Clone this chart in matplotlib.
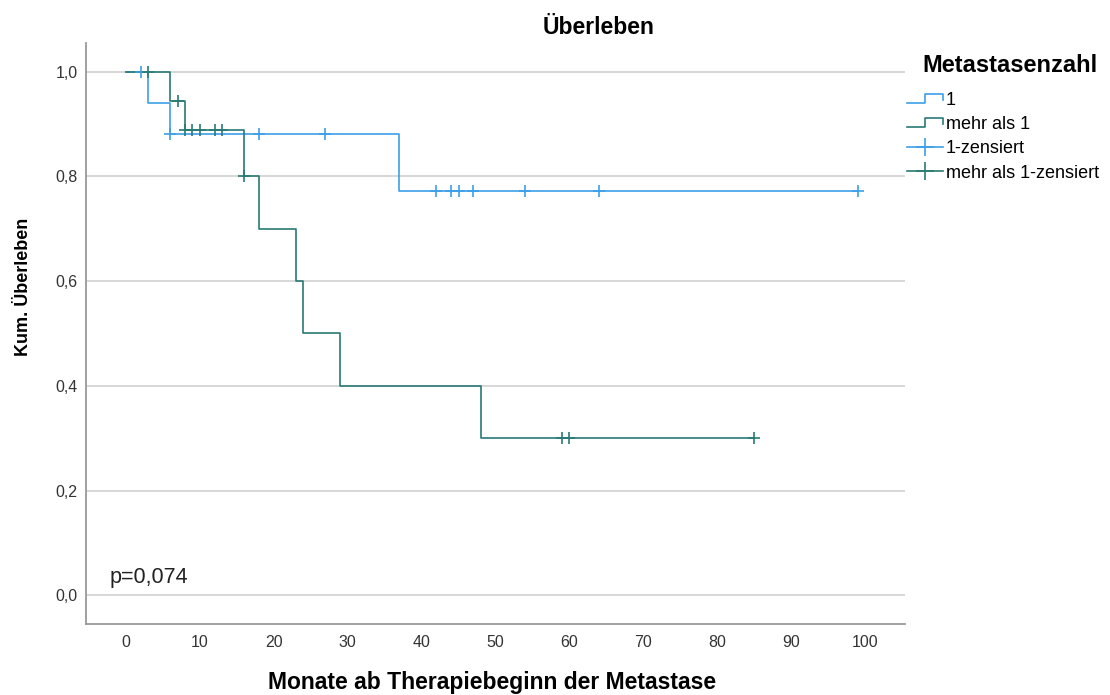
import matplotlib
matplotlib.use("Agg")
import matplotlib.pyplot as plt
from matplotlib.lines import Line2D
from matplotlib.legend_handler import HandlerBase
from matplotlib.ticker import FuncFormatter

plt.rcParams['font.family'] = ['Liberation Sans', 'DejaVu Sans']

# Data
grp1_times = [0, 3, 6, 37, 99]
grp1_surv = [1.0, 0.941, 0.882, 0.772, 0.772]
grp1_cens_t = [2, 6, 18, 27, 42, 44, 45, 47, 54, 64, 99]
grp1_cens_s = [1.0, 0.882, 0.882, 0.882, 0.772, 0.772, 0.772, 0.772, 0.772, 0.772, 0.772]

grp2_times = [0, 6, 8, 16, 18, 23, 24, 29, 48, 85]
grp2_surv = [1.0, 0.944, 0.889, 0.8, 0.7, 0.6, 0.5, 0.4, 0.3, 0.3]
grp2_cens_t = [3, 7, 8, 9, 10, 12, 13, 16, 59, 60, 85]
grp2_cens_s = [1.0, 0.944, 0.889, 0.889, 0.889, 0.889, 0.889, 0.8, 0.3, 0.3, 0.3]

x_ticks = list(range(0, 101, 10))
y_ticks = [0.0, 0.2, 0.4, 0.6, 0.8, 1.0]
legend_labels = ['1', 'mehr als 1', '1-zensiert', 'mehr als 1-zensiert']

c1 = '#3d9fe8'
c2 = '#2a7a74'

W, H = 1110, 695
fig = plt.figure(figsize=(11.1, 6.95), dpi=100)
ax = fig.add_axes([86 / W, 1 - 624 / H, (905 - 86) / W, (624 - 43) / H])

for yt in y_ticks:
    ax.axhline(yt, color='#d4d4d4', lw=1.3, zorder=0)

ax.step(grp1_times, grp1_surv, where='post', color=c1, lw=1.2)
ax.step(grp2_times, grp2_surv, where='post', color=c2, lw=1.2)
ax.plot(grp1_cens_t, grp1_cens_s, ls='none', marker='+', ms=9, mew=1.2, color=c1)
ax.plot(grp2_cens_t, grp2_cens_s, ls='none', marker='+', ms=9, mew=1.2, color=c2)

ax.set_xlim(-5.4, 105.4)
ax.set_ylim(-0.055, 1.055)
ax.set_xticks(x_ticks)
ax.set_yticks(y_ticks)
ax.yaxis.set_major_formatter(FuncFormatter(lambda v, p: f"{v:.1f}".replace('.', ',')))
ax.tick_params(length=0, labelsize=11.5, colors='#333333')
ax.tick_params(axis='x', pad=8)
ax.tick_params(axis='y', pad=6)
for s in ['top', 'right']:
    ax.spines[s].set_visible(False)
for s in ['left', 'bottom']:
    ax.spines[s].set_color('#999999')
    ax.spines[s].set_linewidth(1.3)

fig.text(599 / W, 1 - 27 / H, 'Überleben', fontsize=16.5, fontweight='bold',
         ha='center', va='center')
fig.text(492 / W, 1 - 682 / H, 'Monate ab Therapiebeginn der Metastase', fontsize=16.5,
         fontweight='bold', ha='center', va='center')
fig.text(24 / W, 1 - 287 / H, 'Kum. Überleben', fontsize=13, fontweight='bold',
         ha='center', va='center', rotation=90)
ax.text(-2.2, 0.033, 'p=0,074', fontsize=15.5, va='center', ha='left', color='#222222')


class StepHandler(HandlerBase):
    def create_artists(self, legend, orig_handle, xdescent, ydescent, width, height, fontsize, trans):
        x0 = -xdescent
        x1 = x0 + width
        y0 = -ydescent + height * 0.15
        y1 = -ydescent + height * 0.85
        xm = x0 + width * 0.5
        xs = [x0, xm, xm, x1, x1]
        ys = [y0, y0, y1, y1, y0 + (y1 - y0) * 0.35]
        ln = Line2D(xs, ys, color=orig_handle.get_color(), lw=1.2)
        ln.set_transform(trans)
        return [ln]


class CensHandler(HandlerBase):
    def create_artists(self, legend, orig_handle, xdescent, ydescent, width, height, fontsize, trans):
        x0 = -xdescent
        x1 = x0 + width
        ym = -ydescent + height * 0.5
        ln = Line2D([x0, x1], [ym, ym], color=orig_handle.get_color(), lw=1.2)
        mk = Line2D([x0 + width / 2], [ym], marker='+', ms=13, mew=1.2, ls='none',
                    color=orig_handle.get_color())
        ln.set_transform(trans)
        mk.set_transform(trans)
        return [ln, mk]


h1 = Line2D([], [], color=c1)
h2 = Line2D([], [], color=c2)
h3 = Line2D([], [], color=c1)
h4 = Line2D([], [], color=c2)
sh = StepHandler()
ch = CensHandler()
fig.text(922 / W, 1 - 65 / H, 'Metastasenzahl', fontsize=17, fontweight='bold',
         ha='left', va='center')
leg = fig.legend([h1, h2, h3, h4], legend_labels,
                 handler_map={h1: sh, h2: sh, h3: ch, h4: ch},
                 loc='upper left', bbox_to_anchor=(907 / W, 1 - 92 / H),
                 frameon=False, fontsize=13, borderpad=0, borderaxespad=0,
                 handlelength=2.0, handletextpad=0.15, labelspacing=0.4)

fig.savefig('out.png', dpi=100)
